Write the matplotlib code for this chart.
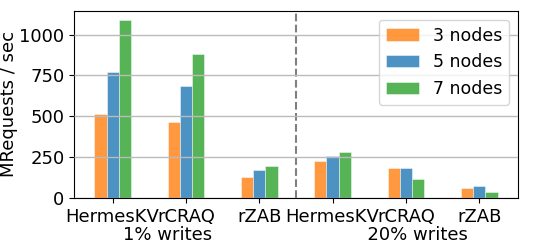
import numpy as np
import matplotlib
matplotlib.use('Agg')
import matplotlib.pyplot as plt

# 数据
systems = ['HermesKV', 'rCRAQ', 'rZAB']
nodes_3 = [513, 462, 129, 223, 182, 60]
nodes_5 = [769, 687, 170, 258, 182, 74]
nodes_7 = [1090, 881, 196, 278, 117, 35]
labels = ['3 nodes', '5 nodes', '7 nodes']
colors = ['tab:orange', 'tab:blue', 'tab:green']

plt.rcParams['font.size'] = 13
fig, ax = plt.subplots(figsize=(5.45, 2.44), dpi=100)
fig.subplots_adjust(left=0.136, right=0.950, bottom=0.189, top=0.955)

x = np.arange(6)
w = 0.5 / 3
for i, (vals, lab, c) in enumerate(zip([nodes_3, nodes_5, nodes_7], labels, colors)):
    ax.bar(x + (i - 1) * w, vals, w, color=c, alpha=0.8, label=lab,
           edgecolor='white', linewidth=0.4)

ax.axvline(2.5, color='gray', linestyle='--', linewidth=1.5)
ax.set_xticks(x)
ax.set_xticklabels(systems * 2)
ax.set_yticks([0, 250, 500, 750, 1000])
ax.yaxis.grid(True, color='#bbbbbb', linewidth=1)
ax.set_axisbelow(False)
ax.set_ylabel('MRequests / sec', labelpad=1)
ax.set_xlabel('1% writes' + ' ' * 27 + '20% writes', labelpad=0)
ax.legend(loc='upper right', fontsize=12.5, handlelength=1.9)

plt.savefig('out.png')
